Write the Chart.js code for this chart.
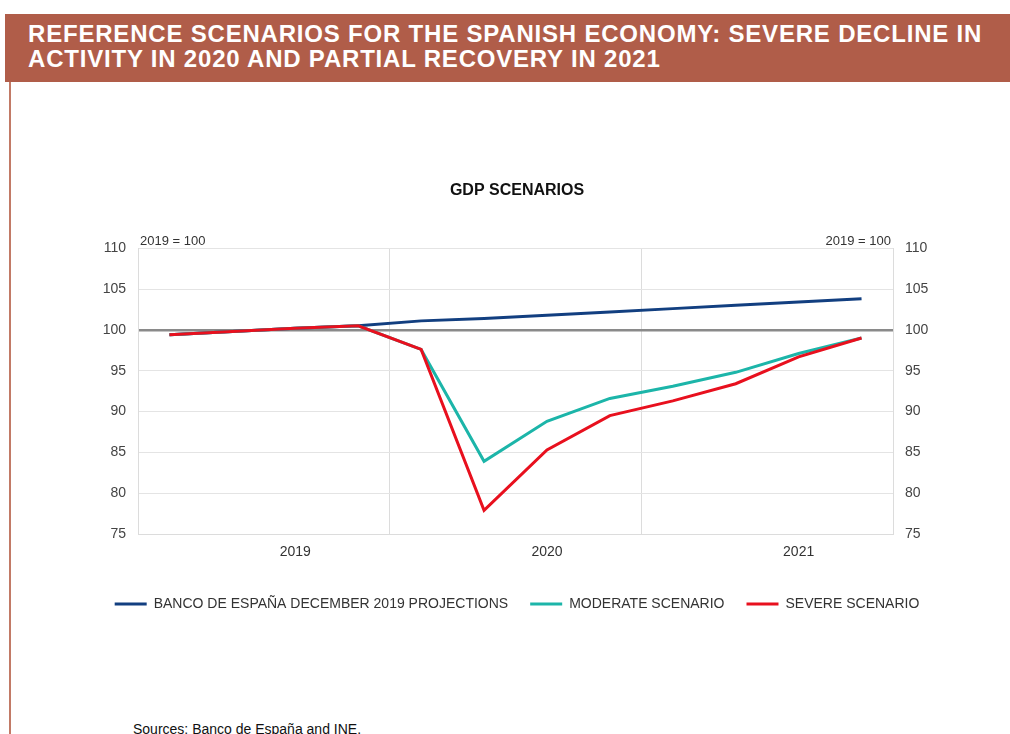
<!DOCTYPE html>
<html>
<head>
<meta charset="utf-8">
<script src="https://cdn.jsdelivr.net/npm/chart.js@4.4.1/dist/chart.umd.min.js"></script>
<style>
  body { margin: 0; background: #fff; width: 1010px; height: 734px; position: relative; overflow: hidden; font-family: "Liberation Sans", Arial, sans-serif; }
  .banner { position: absolute; left: 5px; top: 14px; width: 1005px; height: 68px; background: #b05d49; }
  .banner h1 { margin: 0; padding: 7px 0 0 23px; color: #fff; font-size: 24px; line-height: 25px; letter-spacing: 0.8px; font-weight: bold; white-space: nowrap; }
  .rule { position: absolute; left: 9px; top: 82px; width: 2px; height: 660px; background: #c27a66; }
  .sources { position: absolute; left: 133px; top: 721px; font-size: 14px; color: #111; white-space: nowrap; }
  #wrap { position: absolute; left: 0; top: 160px; width: 1010px; height: 480px; }
</style>
</head>
<body>
<div class="banner"><h1>REFERENCE SCENARIOS FOR THE SPANISH ECONOMY: SEVERE DECLINE IN<br>ACTIVITY IN 2020 AND PARTIAL RECOVERY IN 2021</h1></div>
<div class="rule"></div>
<div id="wrap"><canvas id="gdpChart" width="1010" height="480"></canvas></div>
<div class="sources">Sources: Banco de España and INE.</div>

<script>
// Quarterly GDP index, 2019 = 100
const quarters = ['2019 Q1', '2019 Q2', '2019 Q3', '2019 Q4',
                  '2020 Q1', '2020 Q2', '2020 Q3', '2020 Q4',
                  '2021 Q1', '2021 Q2', '2021 Q3', '2021 Q4'];
const yearLabels = ['', '', '2019', '', '', '', '2020', '', '', '', '2021', ''];

const bdeProjections = [99.4, 99.8, 100.2, 100.5, 101.1, 101.4, 101.8, 102.2, 102.6, 103.0, 103.4, 103.8];
const moderateScenario = [99.4, 99.8, 100.2, 100.5, 97.6, 83.9, 88.8, 91.6, 93.1, 94.8, 97.1, 99.0];
const severeScenario = [99.4, 99.8, 100.2, 100.5, 97.6, 77.9, 85.3, 89.5, 91.3, 93.4, 96.7, 99.0];

const yMin = 75;
const yMax = 110;
const yStep = 5;
const baseNote = '2019 = 100';

const FONT = '"Liberation Sans", Arial, sans-serif';
const GRID = '#dcdcdc';

// "2019 = 100" notes above both corners of the plot
const baseNotePlugin = {
  id: 'baseNote',
  afterDraw(chart) {
    const { ctx, chartArea } = chart;
    ctx.save();
    ctx.font = '13px ' + FONT;
    ctx.fillStyle = '#333';
    ctx.textBaseline = 'alphabetic';
    ctx.textAlign = 'left';
    ctx.fillText(baseNote, chartArea.left + 2, chartArea.top - 3);
    ctx.textAlign = 'right';
    ctx.fillText(baseNote, chartArea.right - 2, chartArea.top - 3);
    ctx.restore();
  }
};

const yTicks = {
  stepSize: yStep,
  padding: 12,
  color: '#444',
  font: { family: FONT, size: 14 }
};

new Chart(document.getElementById('gdpChart'), {
  type: 'line',
  data: {
    labels: quarters,
    datasets: [
      {
        label: 'BANCO DE ESPAÑA DECEMBER 2019 PROJECTIONS',
        data: bdeProjections,
        borderColor: '#123f80',
        backgroundColor: '#123f80',
        order: 2
      },
      {
        label: 'MODERATE SCENARIO',
        data: moderateScenario,
        borderColor: '#1cb5a9',
        backgroundColor: '#1cb5a9',
        order: 1
      },
      {
        label: 'SEVERE SCENARIO',
        data: severeScenario,
        borderColor: '#e8101e',
        backgroundColor: '#e8101e',
        order: 0
      }
    ]
  },
  options: {
    responsive: false,
    animation: false,
    devicePixelRatio: 1,
    elements: {
      line: { borderWidth: 3, tension: 0, fill: false },
      point: { radius: 0, borderWidth: 3 }
    },
    layout: { padding: { left: 24, right: 0, top: 0, bottom: 19 } },
    scales: {
      x: {
        offset: true,
        grid: {
          offset: true,
          drawTicks: false,
          color: ctx => (ctx.index % 4 === 0 ? GRID : 'rgba(0,0,0,0)'),
          lineWidth: 1
        },
        border: { color: GRID },
        ticks: {
          autoSkip: false,
          maxRotation: 0,
          padding: 10,
          color: '#333',
          font: { family: FONT, size: 14 },
          callback: (val, i) => yearLabels[i]
        },
        afterFit: s => { s.height = 41; }
      },
      y: {
        position: 'left',
        min: yMin,
        max: yMax,
        grid: {
          drawTicks: false,
          color: ctx => (ctx.tick && ctx.tick.value === 100 ? '#8a8a8a' : '#e4e4e4'),
          lineWidth: ctx => (ctx.tick && ctx.tick.value === 100 ? 2.5 : 1)
        },
        border: { color: GRID },
        ticks: yTicks,
        afterFit: s => { s.width = 114; }
      },
      y2: {
        position: 'right',
        min: yMin,
        max: yMax,
        grid: { drawOnChartArea: false, drawTicks: false },
        border: { color: GRID },
        ticks: yTicks,
        afterFit: s => { s.width = 117; }
      }
    },
    plugins: {
      title: {
        display: true,
        text: 'GDP SCENARIOS',
        color: '#111',
        font: { family: FONT, size: 16, weight: 'bold' },
        padding: { top: 21, bottom: 48 }
      },
      legend: {
        position: 'bottom',
        labels: {
          usePointStyle: true,
          pointStyle: 'line',
          pointStyleWidth: 32,
          padding: 22,
          color: '#333',
          font: { family: FONT, size: 14 },
          sort: (a, b) => a.datasetIndex - b.datasetIndex
        }
      },
      tooltip: { enabled: false }
    }
  },
  plugins: [baseNotePlugin]
});
</script>
</body>
</html>
